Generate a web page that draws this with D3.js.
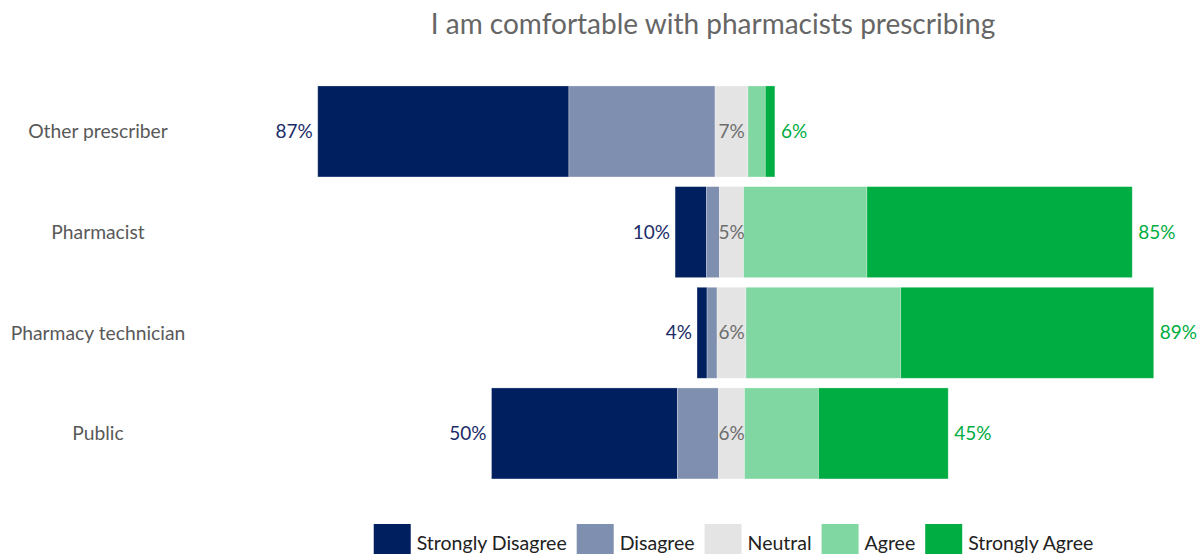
<!DOCTYPE html>
<html>
<head>
<meta charset="utf-8">
<script src="https://cdn.jsdelivr.net/npm/d3@7"></script>
<style>
  html, body { margin: 0; padding: 0; background: #fff; }
  svg { display: block; font-family: Lato, "Open Sans", sans-serif; }
</style>
</head>
<body>
<svg id="chart" width="1201" height="554"></svg>
<script>
// Survey groups and response shares (percent of respondents)
const categories = ["Other prescriber", "Pharmacist", "Pharmacy technician", "Public"];
const responses = ["Strongly Disagree", "Disagree", "Neutral", "Agree", "Strongly Agree"];
const stronglyDisagree = [55.0, 6.9, 2.2, 40.7];
const disagree = [32.0, 2.8, 2.2, 9.0];
const neutral = [7.2, 5.3, 6.3, 5.7];
const agree = [3.8, 27.0, 33.9, 16.2];
const stronglyAgree = [2.1, 58.1, 55.4, 28.4];
const responseColors = ["#001f5f", "#7f8faf", "#e4e4e4", "#80d7a1", "#00ad42"];
const titleText = "I am comfortable with pharmacists prescribing";

const series = [stronglyDisagree, disagree, neutral, agree, stronglyAgree];

const svg = d3.select("#chart");
const center = 731.5;
const halfSpan = 456.7;

// Diverging x scale: neutral is split evenly around zero
const x = d3.scaleLinear().domain([-100, 100]).range([center - halfSpan, center + halfSpan]);
const y = d3.scaleBand().domain(categories).range([76.3, 488.6]).paddingInner(0.096).paddingOuter(0.096);

const rows = categories.map((cat, i) => {
  const vals = series.map(s => s[i]);
  let pos = -(vals[0] + vals[1] + vals[2] / 2);
  const segs = vals.map((v, k) => {
    const seg = { cat, k, x0: pos, x1: pos + v, v };
    pos += v;
    return seg;
  });
  return {
    cat, segs,
    left: vals[0] + vals[1],
    mid: vals[2],
    right: vals[3] + vals[4],
    start: segs[0].x0,
    end: segs[4].x1
  };
});

// Title
svg.append("text")
  .attr("x", 713)
  .attr("y", 34)
  .attr("text-anchor", "middle")
  .attr("fill", "#666666")
  .attr("font-size", 28)
  .text(titleText);

// Category labels
svg.append("g").selectAll("text")
  .data(categories)
  .join("text")
  .attr("x", 98)
  .attr("y", d => y(d) + y.bandwidth() / 2)
  .attr("dy", "0.35em")
  .attr("text-anchor", "middle")
  .attr("fill", "#595959")
  .attr("font-size", 19.3)
  .text(d => d);

// Stacked segments
const barG = svg.append("g");
rows.forEach(r => {
  barG.selectAll(null)
    .data(r.segs)
    .join("rect")
    .attr("x", d => x(d.x0))
    .attr("y", y(r.cat))
    .attr("width", d => x(d.x1) - x(d.x0))
    .attr("height", y.bandwidth())
    .attr("fill", d => responseColors[d.k])
    .attr("stroke", "#ffffff")
    .attr("stroke-opacity", 0.35)
    .attr("stroke-width", 0.8);
});

const fmt = v => d3.format(".0f")(v) + "%";
const labelG = svg.append("g").attr("font-size", 19);

// Combined disagree share, left of each bar
labelG.selectAll(".lab-left")
  .data(rows)
  .join("text")
  .attr("x", d => x(d.start) - 5)
  .attr("y", d => y(d.cat) + y.bandwidth() / 2)
  .attr("dy", "0.35em")
  .attr("text-anchor", "end")
  .attr("fill", "#1b2c68")
  .text(d => fmt(d.left));

// Neutral share, centred on the bar
labelG.selectAll(".lab-mid")
  .data(rows)
  .join("text")
  .attr("x", x(0))
  .attr("y", d => y(d.cat) + y.bandwidth() / 2)
  .attr("dy", "0.35em")
  .attr("text-anchor", "middle")
  .attr("fill", "#6d6d6d")
  .text(d => fmt(d.mid));

// Combined agree share, right of each bar
labelG.selectAll(".lab-right")
  .data(rows)
  .join("text")
  .attr("x", d => x(d.end) + 6)
  .attr("y", d => y(d.cat) + y.bandwidth() / 2)
  .attr("dy", "0.35em")
  .attr("text-anchor", "start")
  .attr("fill", "#00ad42")
  .text(d => fmt(d.right));

// Legend, laid out left to right and centred
const legend = svg.append("g").attr("font-size", 19.5);
const sw = 37, gapText = 6, gapItem = 10;
const items = legend.selectAll("g")
  .data(responses)
  .join("g");
items.append("rect")
  .attr("width", sw)
  .attr("height", sw)
  .attr("y", 524)
  .attr("fill", (d, i) => responseColors[i]);
items.append("text")
  .attr("x", sw + gapText)
  .attr("y", 550)
  .attr("fill", "#222222")
  .text(d => d);
let cursor = 0;
const offsets = [];
items.each(function () {
  const w = d3.select(this).select("text").node().getComputedTextLength();
  offsets.push(cursor);
  cursor += sw + gapText + w + gapItem;
});
const total = cursor - gapItem;
const startX = 733.5 - total / 2;
items.attr("transform", (d, i) => `translate(${startX + offsets[i]},0)`);
</script>
</body>
</html>
